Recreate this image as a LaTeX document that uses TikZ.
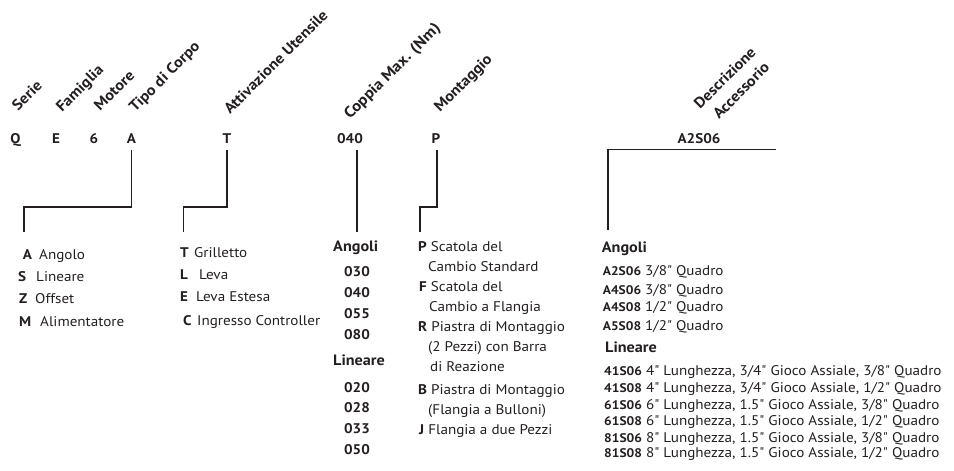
\documentclass[tikz,border=0pt]{standalone}
\usepackage{fontspec}
\newfontfamily\pts[FakeStretch=1.08]{PT Sans}
\definecolor{ink}{HTML}{231F20}
\begin{document}
\begin{tikzpicture}[x=1pt,y=-1pt,
  txt/.style={anchor=base west, inner sep=0pt, font=\pts\fontsize{14}{16}\selectfont, text=ink},
  btxt/.style={txt, font=\pts\bfseries\fontsize{14}{16}\selectfont},
  sub/.style={txt, font=\pts\bfseries\fontsize{15}{17}\selectfont},
  hdr/.style={anchor=base west, inner sep=0pt, rotate=45, font=\pts\bfseries\fontsize{15}{17}\selectfont, text=ink},
  code/.style={anchor=base, inner sep=0pt, font=\pts\bfseries\fontsize{14}{16}\selectfont, text=ink},
  conn/.style={draw=ink, line width=1.6pt}]
\useasboundingbox (0,0) rectangle (954,471);
\newcommand\acc[1]{{\bfseries\fontsize{12.5}{14}\selectfont #1}}

% rotated headers
\node[hdr] (hS)  at (18,112)  {Serie};
\node[hdr] (hF)  at (62,113)  {Famiglia};
\node[hdr] (hM)  at (100,112) {Motore};
\node[hdr] (hT)  at (135,113) {Tipo di Corpo};
\node[hdr] (hU)  at (230,115) {Attivazione Utensile};
\node[hdr, font=\pts\bfseries\fontsize{15.5}{18}\selectfont] (hC) at (350,120) {Coppia Max. (Nm)};
\node[hdr] (hMo) at (440,113) {Montaggio};
\node[hdr] (hD1) at (700,110) {Descrizione};
\node[hdr] (hD2) at (719,120) {Accessorio};

% code letters
\node[code] (cQ) at (15.5,143) {Q};
\node[code] (cE) at (56,143)   {E};
\node[code] (c6) at (94,143)   {6};
\node[code] (cA) at (131.5,143){A};
\node[code] (cT) at (227,143)  {T};
\node[code] (cC) at (350,143)  {040};
\node[code] (cP) at (436,143)  {P};
\node[code] (cR) at (699,143)  {A2S06};

% connector ends
\coordinate (eA) at (24,231.7);
\coordinate (eT) at (183.3,231.7);
\coordinate (eC) at (356.7,231.7);
\coordinate (eP) at (420,231.7);
\coordinate (rR) at (776,149.3);
\coordinate (eR) at (608,230);

\draw[conn] ([yshift=-7pt]cA.south) -- ++(0,56.7) -| (eA);
\draw[conn] ([yshift=-7pt]cT.south) -- ++(0,56.7) -| (eT);
\draw[conn] ([xshift=6.7pt,yshift=-7pt]cC.south) -- (eC);
\draw[conn] ([xshift=0.7pt,yshift=-7pt]cP.south) -- ++(0,56.7) -| (eP);
\draw[conn] (rR) -| (eR);

% column 1
\node[btxt] (l1a) at (22.7,259) {A}; \node[txt] (t1a) at (39,259) {Angolo};
\node[btxt] (l1b) at (18,281)   {S}; \node[txt] (t1b) at (36,281) {Lineare};
\node[btxt] (l1c) at (19,303)   {Z}; \node[txt] (t1c) at (35,303) {Offset};
\node[btxt] (l1d) at (19,326)   {M}; \node[txt] (t1d) at (40,326) {Alimentatore};

% column 2
\node[btxt] (l2a) at (180,257) {T}; \node[txt] (t2a) at (194,257) {Grilletto};
\node[btxt] (l2b) at (180,279) {L}; \node[txt] (t2b) at (199,279) {Leva};
\node[btxt] (l2c) at (180,301) {E}; \node[txt] (t2c) at (196,301) {Leva Estesa};
\node[btxt] (l2d) at (183,325) {C}; \node[txt] (t2d) at (197,325) {Ingresso Controller};

% column 3
\node[sub] (a3) at (333,251) {Angoli};
\node[code] (n1) at (357,276.7) {030};
\node[code] (n2) at (357,297)   {040};
\node[code] (n3) at (357,318)   {055};
\node[code] (n4) at (357,339)   {080};
\node[sub] (b3) at (333,365.7) {Lineare};
\node[code] (n5) at (357,392) {020};
\node[code] (n6) at (357,412) {028};
\node[code] (n7) at (357,433) {033};
\node[code] (n8) at (357,454) {050};

% column 4
\node[txt] (p1) at (418,251) {\textbf{P} Scatola del};
\node[txt] (p2) at (428,271) {Cambio Standard};
\node[txt] (p3) at (419,291) {\textbf{F} Scatola del};
\node[txt] (p4) at (429,311) {Cambio a Flangia};
\node[txt] (p5) at (418,331) {\textbf{R} Piastra di Montaggio};
\node[txt] (p6) at (428,351) {(2 Pezzi) con Barra};
\node[txt] (p7) at (430,371) {di Reazione};
\node[txt] (p8) at (418,394) {\textbf{B} Piastra di Montaggio};
\node[txt] (p9) at (428,414) {(Flangia a Bulloni)};
\node[txt] (p10) at (419,434) {\textbf{J} Flangia a due Pezzi};

% column 5
\node[sub] (a5) at (601.7,252.3) {Angoli};
\node[txt] (r1) at (602.7,275.7) {\acc{A2S06} 3/8" Quadro};
\node[txt] (r2) at (602.7,294)   {\acc{A4S06} 3/8" Quadro};
\node[txt] (r3) at (602.7,311.7) {\acc{A4S08} 1/2" Quadro};
\node[txt] (r4) at (602.7,330)   {\acc{A5S08} 1/2" Quadro};
\node[sub] (b5) at (605,352) {Lineare};
\node[txt] (s1) at (604,375.7) {\acc{41S06} 4" Lunghezza, 3/4" Gioco Assiale, 3/8" Quadro};
\node[txt] (s2) at (604,392.3) {\acc{41S08} 4" Lunghezza, 3/4" Gioco Assiale, 1/2" Quadro};
\node[txt] (s3) at (604,409)   {\acc{61S06} 6" Lunghezza, 1.5" Gioco Assiale, 3/8" Quadro};
\node[txt] (s4) at (604,425.7) {\acc{61S08} 6" Lunghezza, 1.5" Gioco Assiale, 1/2" Quadro};
\node[txt] (s5) at (604,442.3) {\acc{81S06} 8" Lunghezza, 1.5" Gioco Assiale, 3/8" Quadro};
\node[txt] (s6) at (604,457.3) {\acc{81S08} 8" Lunghezza, 1.5" Gioco Assiale, 1/2" Quadro};
\end{tikzpicture}
\end{document}
